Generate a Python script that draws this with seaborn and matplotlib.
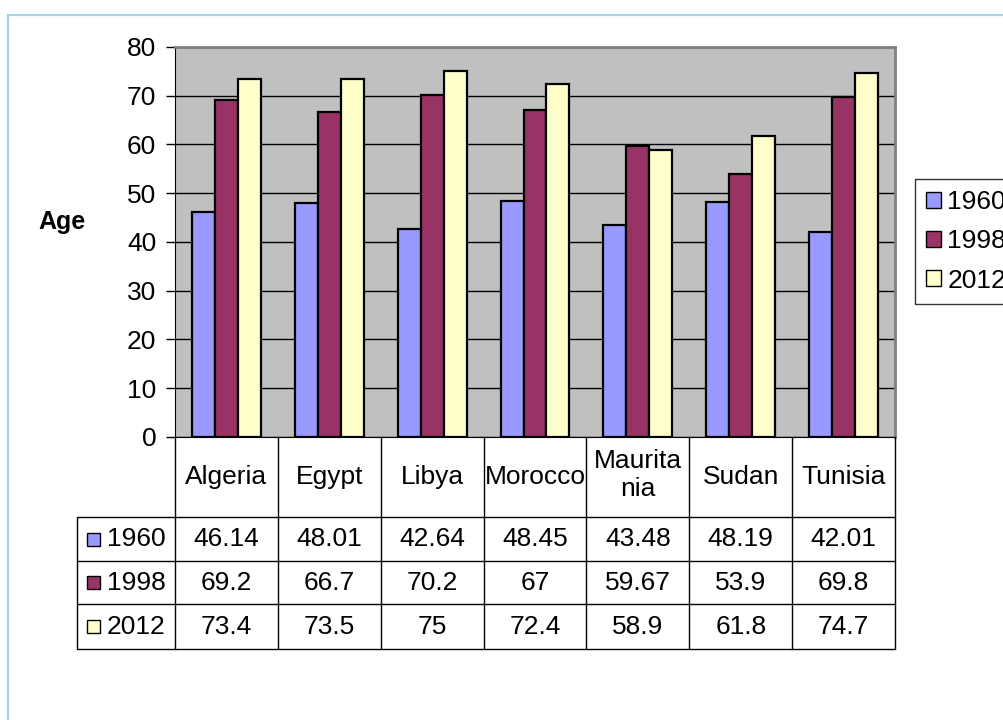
import numpy as np
import pandas as pd
import matplotlib
matplotlib.use("Agg")
import matplotlib.pyplot as plt
import seaborn as sns
from matplotlib.patches import Rectangle
from matplotlib.lines import Line2D

# data
countries = ["Algeria", "Egypt", "Libya", "Morocco", "Mauritania", "Sudan", "Tunisia"]
header_labels = ["Algeria", "Egypt", "Libya", "Morocco", "Maurita\nnia", "Sudan", "Tunisia"]
years = ["1960", "1998", "2012"]
v1960 = [46.14, 48.01, 42.64, 48.45, 43.48, 48.19, 42.01]
v1998 = [69.2, 66.7, 70.2, 67, 59.67, 53.9, 69.8]
v2012 = [73.4, 73.5, 75, 72.4, 58.9, 61.8, 74.7]
yticks = [0, 10, 20, 30, 40, 50, 60, 70, 80]
colors = ["#9999FF", "#993366", "#FFFFCC"]

df = pd.DataFrame({
    "country": countries * 3,
    "year": [y for y in years for _ in countries],
    "age": v1960 + v1998 + v2012,
})

sns.set_style("white")
plt.rcParams["font.family"] = ["Liberation Sans", "DejaVu Sans"]
plt.rcParams["text.color"] = "black"
plt.rcParams["ytick.labelcolor"] = "black"
plt.rcParams["legend.labelcolor"] = "black"
FS = 19

W, H = 1004, 720
fig = plt.figure(figsize=(W / 100, H / 100), dpi=100)

# plot area in pixel terms
px_l, px_r, px_t, px_b = 175, 895, 47, 437
ax = fig.add_axes([px_l / W, 1 - px_b / H, (px_r - px_l) / W, (px_b - px_t) / H])
sns.barplot(data=df, x="country", y="age", hue="year", palette=colors, saturation=1,
            edgecolor="black", linewidth=1.6, width=0.67, ax=ax, legend=False)
ax.set_facecolor("#C0C0C0")
ax.set_xlim(-0.5, 6.5)
ax.set_ylim(0, 80)
ax.set_yticks(yticks)
ax.set_yticklabels([str(t) for t in yticks], fontsize=FS, color="black")
ax.tick_params(axis="y", direction="out", length=6.5, width=1, color="black", pad=7, left=True)
ax.set_xticks([])
ax.set_xlabel("")
ax.set_ylabel("")
ax.yaxis.grid(True, color="black", linewidth=1)
ax.set_axisbelow(True)
for side in ["left", "bottom"]:
    ax.spines[side].set_color("black")
for side in ["top", "right"]:
    ax.spines[side].set_color("#808080")
    ax.spines[side].set_linewidth(2)

fig.text(62 / W, 1 - 222 / H, "Age", fontsize=18, fontweight="bold", ha="center", va="center")

# data table below the plot
cat_w = (px_r - px_l) / 7
tb_l, tb_b = 77, 649
tax = fig.add_axes([tb_l / W, 1 - tb_b / H, (px_r - tb_l) / W, (tb_b - px_b) / H])
x0 = -0.5 - (px_l - tb_l) / cat_w
tax.set_xlim(x0, 6.5)
tax.set_ylim(tb_b - px_b, 0)
tax.axis("off")

rows_y = [0, 80, 124, 167, 212]
lc = "black"
lw = 1
for i in range(8):
    tax.plot([i - 0.5, i - 0.5], [0, 212], color=lc, lw=lw, clip_on=False)
tax.plot([x0, x0], [80, 212], color=lc, lw=lw, clip_on=False)
for yy in rows_y[1:]:
    tax.plot([x0, 6.5], [yy, yy], color=lc, lw=lw, clip_on=False)

for i, lab in enumerate(header_labels):
    yy = 38 if "\n" in lab else 40
    tax.text(i, yy, lab, fontsize=FS, ha="center", va="center", linespacing=1.2)

series = [v1960, v1998, v2012]
for r, (yr, vals, col) in enumerate(zip(years, series, colors)):
    yc = (rows_y[r + 1] + rows_y[r + 2]) / 2
    sq_x = x0 + 10 / cat_w
    tax.add_patch(Rectangle((sq_x, yc - 6.5), 13 / cat_w, 13, facecolor=col,
                            edgecolor="black", lw=1, clip_on=False))
    tax.text(sq_x + 20 / cat_w, yc, yr, fontsize=FS, ha="left", va="center")
    for i, v in enumerate(vals):
        tax.text(i, yc, f"{v:g}", fontsize=FS, ha="center", va="center")

# legend on the right (runs off the edge like the original)
handles = [Rectangle((0, 0), 1, 1, facecolor=c, edgecolor="black", lw=1) for c in colors]
fig.legend(handles, years, loc="upper left", bbox_to_anchor=(915 / W, 1 - 179 / H),
           fontsize=FS, frameon=True, fancybox=False, edgecolor="black",
           handlelength=0.55, handleheight=0.55, handletextpad=0.25,
           labelspacing=0.58, borderpad=0.42, borderaxespad=0)

# light blue frame
fc = "#A5D6E2"
fig.add_artist(Line2D([8 / W, 8 / W], [0, 1 - 15 / H], color=fc, lw=1.6))
fig.add_artist(Line2D([8 / W, 1], [1 - 15 / H, 1 - 15 / H], color=fc, lw=1.6))

fig.savefig("out.png", dpi=100)
